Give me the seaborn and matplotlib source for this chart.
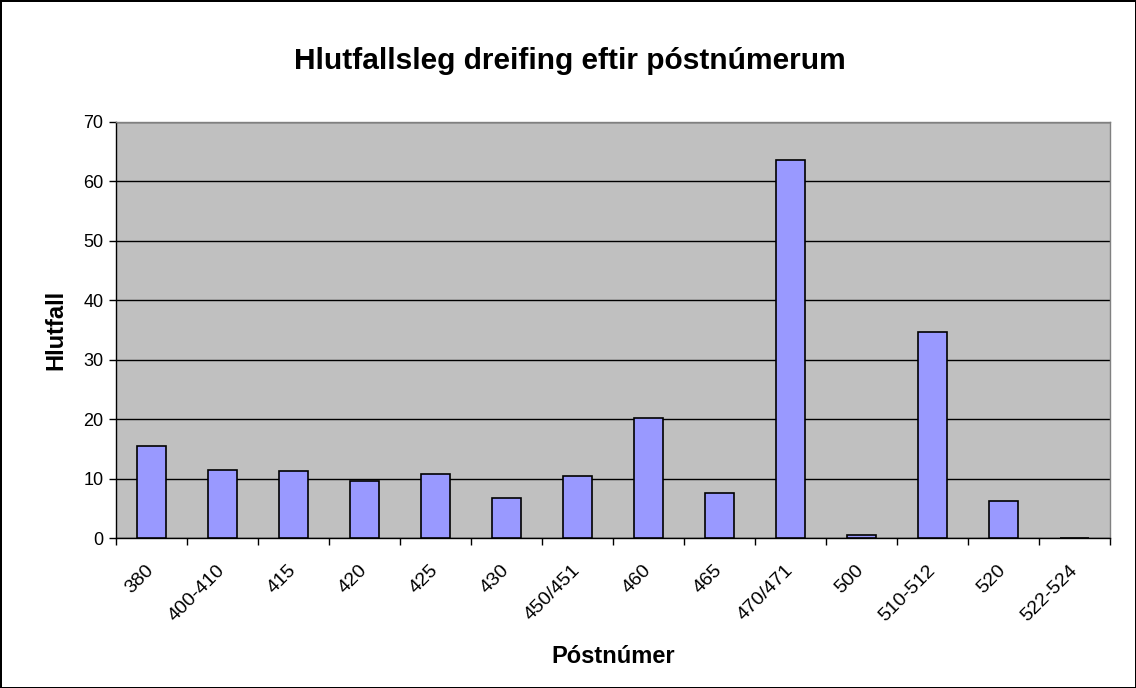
import matplotlib
matplotlib.use('Agg')
import matplotlib.pyplot as plt
import matplotlib.transforms as mtransforms
import seaborn as sns
import pandas as pd
import numpy as np

# Gögn lesin af myndinni
postnumer = ['380', '400-410', '415', '420', '425', '430', '450/451', '460',
             '465', '470/471', '500', '510-512', '520', '522-524']
hlutfall = [15.5, 11.4, 11.3, 9.6, 10.8, 6.7, 10.45, 20.1, 7.6, 63.6, 0.5, 34.7, 6.3, 0.0]

df = pd.DataFrame({'Póstnúmer': postnumer, 'Hlutfall': hlutfall})

sns.set_style('white')
plt.rcParams['font.family'] = ['Liberation Sans', 'DejaVu Sans']
plt.rcParams['text.color'] = 'black'
plt.rcParams['xtick.color'] = 'black'
plt.rcParams['ytick.color'] = 'black'
plt.rcParams['axes.labelcolor'] = 'black'

fig = plt.figure(figsize=(11.36, 6.88), dpi=100)
fig.patch.set_edgecolor('black')
fig.patch.set_linewidth(2)
ax = fig.add_axes([0.102, 0.218, 0.875, 0.605])
ax.set_facecolor('#C0C0C0')

sns.barplot(data=df, x='Póstnúmer', y='Hlutfall', ax=ax, color='#9999FF',
            width=0.4, edgecolor='black', linewidth=1.2, saturation=1, zorder=3)

ax.set_ylim(0, 70)
ax.set_xlim(-0.5, len(postnumer) - 0.5)
ax.set_yticks(np.arange(0, 71, 10))
ax.yaxis.grid(True, color='black', linewidth=1)
ax.set_axisbelow(True)

# merki á mörkum flokka, textar í miðju
ax.set_xticks(np.arange(len(postnumer)))
ax.set_xticklabels(postnumer, rotation=45, ha='right', rotation_mode='anchor', fontsize=14)
ax.set_xticks(np.arange(-0.5, len(postnumer)), minor=True)
ax.tick_params(axis='x', which='major', length=0, pad=17)
ax.tick_params(axis='x', which='minor', length=5, width=1, color='black', direction='out', bottom=True)
ax.tick_params(axis='y', length=5, width=1, color='black', direction='out', left=True,
               labelsize=13, pad=4)

shift = mtransforms.ScaledTranslation(-6 / 100, 0, fig.dpi_scale_trans)
for lbl in ax.get_xticklabels():
    lbl.set_transform(lbl.get_transform() + shift)

for s in ['left', 'bottom']:
    ax.spines[s].set_color('black')
    ax.spines[s].set_linewidth(1)
for s in ['top', 'right']:
    ax.spines[s].set_color('#808080')
    ax.spines[s].set_linewidth(1)

ax.set_xlabel('Póstnúmer', fontsize=17, fontweight='bold', labelpad=15)
ax.set_ylabel('Hlutfall', fontsize=17, fontweight='bold', labelpad=11)
fig.text(0.502, 0.911, 'Hlutfallsleg dreifing eftir póstnúmerum', ha='center', va='center',
         fontsize=21.5, fontweight='bold')

fig.savefig('out.png', dpi=100)
